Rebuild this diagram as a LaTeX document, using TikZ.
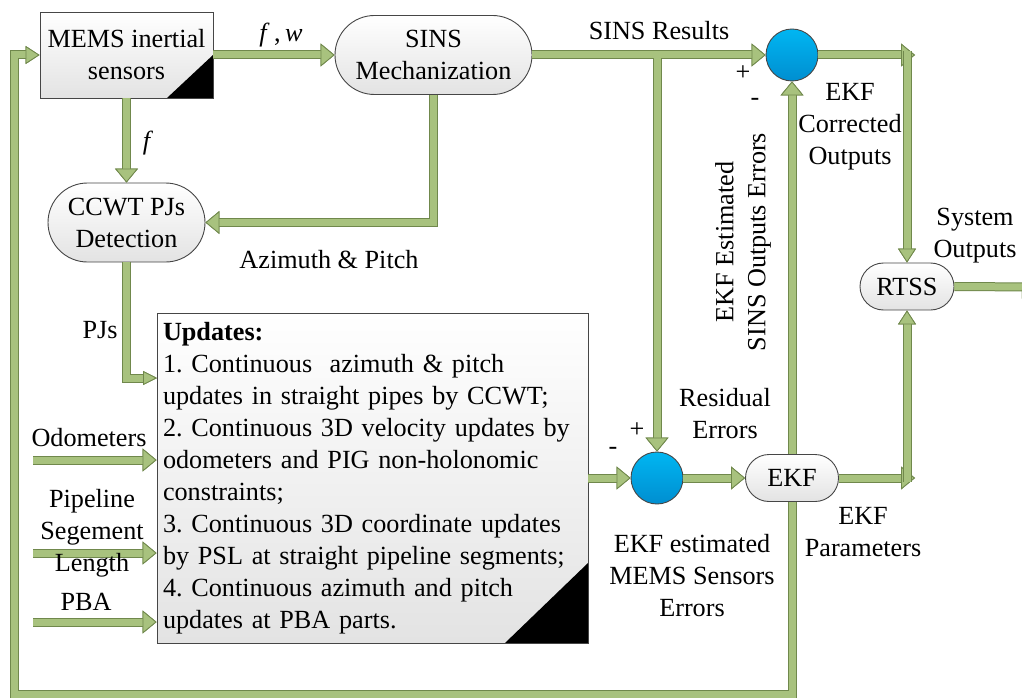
\documentclass[tikz,border=0pt]{standalone}
\usepackage{fontspec}
\setmainfont{Liberation Serif}
\newfontfamily\tnr{Liberation Serif}
\usetikzlibrary{arrows.meta,shapes.misc}
\definecolor{agreen}{RGB}{168,194,126}
\definecolor{adark}{RGB}{112,136,76}
\definecolor{bedge}{RGB}{70,70,70}
\definecolor{ctop}{RGB}{0,182,242}
\definecolor{cbot}{RGB}{0,142,208}
\tikzset{
  fatarrow/.style={draw=agreen, line width=7pt,
    -{Triangle[width=#1,length=14pt,line width=0.8pt,fill=agreen,color=adark]},
    preaction={draw=adark, line width=9pt, -{Triangle[width=#1,length=14pt,line width=0.8pt,color=adark]}}},
  fatarrow/.default=23pt,
  boxn/.style={draw=bedge, line width=0.9pt, top color=white, bottom color=black!11, align=center},
  stad/.style={rounded rectangle, draw=bedge, line width=0.9pt, top color=white, bottom color=black!11, align=center},
  sumc/.style={circle, draw=bedge, line width=0.9pt, minimum size=52pt, top color=ctop, bottom color=cbot},
  lbl/.style={align=center},
}
\begin{document}
\frenchspacing
\begin{tikzpicture}[x=1pt,y=-1pt, every node/.style={font=\tnr\fontsize{26.2}{32}\selectfont, inner sep=0pt}]
\useasboundingbox (0,0) rectangle (1022,698);
\fill[white] (0,0) rectangle (1022,698);

% nodes
\node[boxn, minimum width=173pt, minimum height=86pt,
  path picture={\fill[black] (path picture bounding box.south east) -- ++(-46pt,0pt) -- ++(46pt,43pt) -- cycle;}]
  (mems) at (126.5,55) {MEMS inertial\\sensors};
\node[stad, minimum width=197pt, minimum height=79pt] (sins) at (433.5,55) {SINS\\Mechanization};
\node[stad, minimum width=157pt, minimum height=79pt] (ccwt) at (126.5,222.5) {CCWT PJs\\Detection};
\node[boxn, minimum width=431pt, minimum height=330pt, text width=419pt, align=left,
  path picture={\fill[black] (path picture bounding box.south east) -- ++(-83pt,0pt) -- ++(83pt,80pt) -- cycle;}]
  (upd) at (372.5,478) {\textbf{Updates:}\\
1. Continuous\ \ azimuth \& pitch\\
updates in straight pipes by CCWT;\\
2. Continuous 3D velocity updates by\\
odometers and PIG non-holonomic\\
constraints;\\
3. Continuous 3D coordinate updates\\
by PSL at straight pipeline segments;\\
4. Continuous azimuth and pitch\\
updates at PBA parts.};
\node[sumc] (c1) at (792,55) {};
\node[sumc] (c2) at (657,478) {};
\node[stad, minimum width=93pt, minimum height=47pt] (ekf) at (792,478) {EKF};
\node[stad, minimum width=94pt, minimum height=47pt] (rtss) at (907,286.5) {RTSS};

% coordinates
\coordinate (b1) at (657,58);
\coordinate (c1end) at (915,55);
\coordinate (c1down) at (907,51);
\coordinate (e1end) at (915,478);
\coordinate (e1up) at (907,482);
\coordinate (lb) at (14,694);
\coordinate (pjin) at (157,378);
\coordinate (odo) at (33,460);
\coordinate (psl) at (33,553);
\coordinate (pba) at (33,622);
\coordinate (out) at (1036,287);

% connectors
\draw[fatarrow] (mems.east) -- (sins.west);
\draw[fatarrow] (sins.east) -- (c1.west);
\draw[fatarrow] (b1) -- (c2.north);
\draw[fatarrow] (c1.east) -- (c1end);
\draw[fatarrow=18pt] (c1down) -- (rtss.north);
\draw[fatarrow] (ekf.east) -- (e1end);
\draw[fatarrow=18pt] (e1up) -- (rtss.south);
\draw[fatarrow] (ekf.north) -- (c1.south);
\draw[fatarrow=18pt] (ekf.south) |- (lb) |- (mems.west);
\draw[fatarrow] (mems.south) -- (ccwt.north);
\draw[fatarrow] (sins.south) |- (ccwt.east);
\draw[fatarrow=14pt] (ccwt.south) |- (pjin);
\draw[fatarrow] (odo) -- (upd.west |- odo);
\draw[fatarrow] (psl) -- (upd.west |- psl);
\draw[fatarrow] (pba) -- (upd.west |- pba);
\draw[fatarrow] (upd.east) -- (c2.west);
\draw[fatarrow] (c2.east) -- (ekf.west);
\draw[fatarrow] (rtss.east) -- (out);

% labels
\node[lbl] (lfw) at (281,35) {\textit{f}\,,\,\textit{w}};
\node[lbl] (lf) at (148,143) {\textit{f}};
\node[lbl] (lsr) at (659,31) {SINS Results};
\node[lbl] (laz) at (329,260) {Azimuth \& Pitch};
\node[lbl] (lpj) at (100,330) {PJs};
\node[lbl] (lodo) at (89,438) {Odometers};
\node[lbl] (lpsl) at (92,533) {Pipeline\\Segement\\Length};
\node[lbl] (lpba) at (86,602) {PBA};
\node[lbl] (lres) at (725,414) {Residual\\Errors};
\node[lbl] (lmem) at (692,576) {EKF estimated\\MEMS Sensors\\Errors};
\node[lbl] (lpar) at (863,532) {EKF\\Parameters};
\node[lbl] (lcor) at (850,127) {EKF\\Corrected\\Outputs};
\node[lbl] (lsys) at (975,236) {System\\Outputs};
\node[lbl, rotate=90] (lest) at (743,242) {EKF Estimated\\SINS Outputs Errors};
\node (p1) at (743,73) {+};
\node (m1) at (755,102) {-};
\node (p2) at (637,430) {+};
\node (m2) at (613,451) {-};
\end{tikzpicture}
\end{document}
